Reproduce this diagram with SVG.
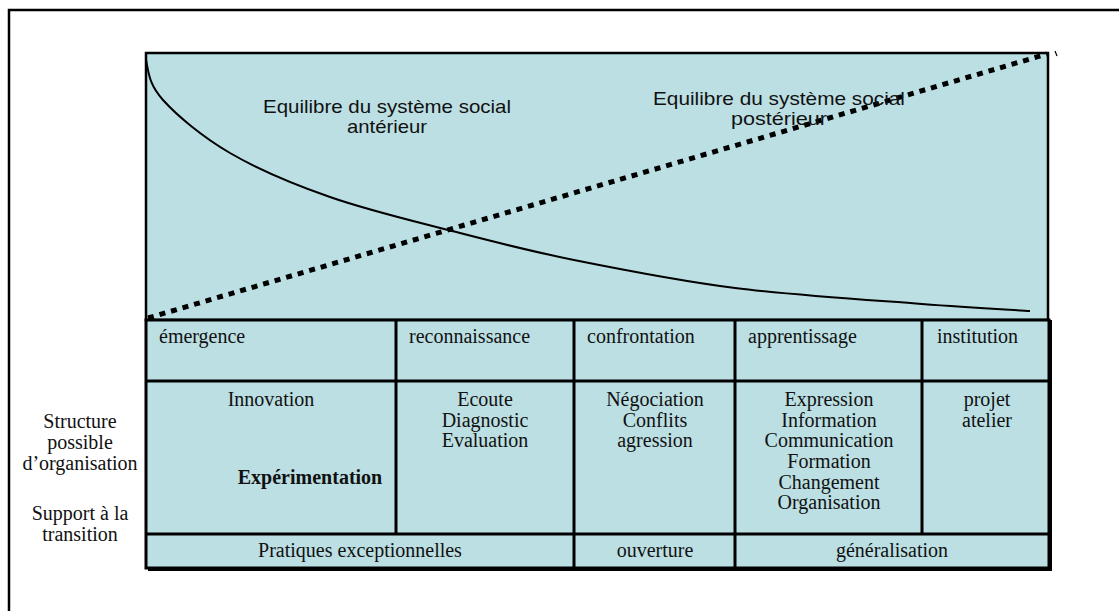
<svg xmlns="http://www.w3.org/2000/svg" width="1119" height="611" viewBox="0 0 1119 611">
<style>
.cell{fill:#bbdfe3;stroke:#000;stroke-width:3}
.sans{font-family:"Liberation Sans",Arial,sans-serif;font-size:18.5px;fill:#111}
.serif{font-family:"Liberation Serif","Times New Roman",serif;font-size:20px;fill:#111}
.mid{text-anchor:middle}
.grid{stroke:#000;stroke-width:3;fill:none}
</style>
<rect width="1119" height="611" fill="#fff"/>
<g id="frame"><path d="M9,611 V10 H1119" fill="none" stroke="#000" stroke-width="2.5"/></g>
<g id="chart">
<rect x="146" y="53" width="902" height="267" fill="#bbdfe3" stroke="#000" stroke-width="2.5"/>
</g>
<g id="connectors">
<path d="M146,60 C148.8,73.3 149,84.5 163,100 C177,115.5 202.2,136.8 230,153 C257.8,169.2 293,184 330,197 C367,210 411.3,220.5 452,231 C492.7,241.5 526.8,250.5 574,260 C621.2,269.5 677,280.7 735,288 C793,295.3 872.8,300.2 922,304 C971.2,307.8 1012,309.8 1030,311" fill="none" stroke="#000" stroke-width="2"/>
<line x1="148" y1="318" x2="1047" y2="54" stroke="#000" stroke-width="5" stroke-dasharray="6,6"/>
<line x1="1055" y1="51" x2="1057" y2="56" stroke="#000" stroke-width="1.2"/>
</g>
<g id="label-anterieur" class="sans">
<text x="387" y="113" class="mid" textLength="248" lengthAdjust="spacingAndGlyphs">Equilibre du système social</text>
<text x="387" y="133" class="mid" textLength="80" lengthAdjust="spacingAndGlyphs">antérieur</text>
</g>
<g id="label-posterieur" class="sans">
<text x="779" y="105" class="mid" textLength="252" lengthAdjust="spacingAndGlyphs">Equilibre du système social</text>
<text x="779" y="125" class="mid" textLength="96" lengthAdjust="spacingAndGlyphs">postérieur</text>
</g>
<g id="table">
<rect x="146" y="320" width="903" height="248" fill="#bbdfe3"/>
<path class="grid" d="M146,381 H1049 M146,534 H1049 M396,320 V534 M574,320 V568 M735,320 V568 M922,320 V534"/>
<rect x="146" y="320" width="903" height="248" fill="none" stroke="#000" stroke-width="3"/>
<path d="M148,569.5 H1050.5 V320" fill="none" stroke="#000" stroke-width="3"/>
</g>
<g id="phases" class="serif">
<text x="159" y="343">émergence</text>
<text x="409" y="343">reconnaissance</text>
<text x="587" y="343">confrontation</text>
<text x="748" y="343">apprentissage</text>
<text x="937" y="343">institution</text>
</g>
<g id="col-emergence" class="serif mid">
<text x="271" y="406">Innovation</text>
<text x="310" y="484" font-weight="bold">Expérimentation</text>
</g>
<g id="col-reconnaissance" class="serif mid">
<text x="485" y="406">Ecoute</text>
<text x="485" y="427">Diagnostic</text>
<text x="485" y="447">Evaluation</text>
</g>
<g id="col-confrontation" class="serif mid">
<text x="655" y="406">Négociation</text>
<text x="655" y="427">Conflits</text>
<text x="655" y="447">agression</text>
</g>
<g id="col-apprentissage" class="serif mid">
<text x="829" y="406">Expression</text>
<text x="829" y="427">Information</text>
<text x="829" y="447">Communication</text>
<text x="829" y="468">Formation</text>
<text x="829" y="489">Changement</text>
<text x="829" y="509">Organisation</text>
</g>
<g id="col-institution" class="serif mid">
<text x="987" y="406">projet</text>
<text x="987" y="427">atelier</text>
</g>
<g id="transition" class="serif mid">
<text x="360" y="557">Pratiques exceptionnelles</text>
<text x="655" y="557">ouverture</text>
<text x="892" y="557">généralisation</text>
</g>
<g id="row-labels" class="serif mid">
<text x="80" y="428">Structure</text>
<text x="80" y="449">possible</text>
<text x="80" y="470">d’organisation</text>
<text x="80" y="520">Support à la</text>
<text x="80" y="541">transition</text>
</g>
</svg>
